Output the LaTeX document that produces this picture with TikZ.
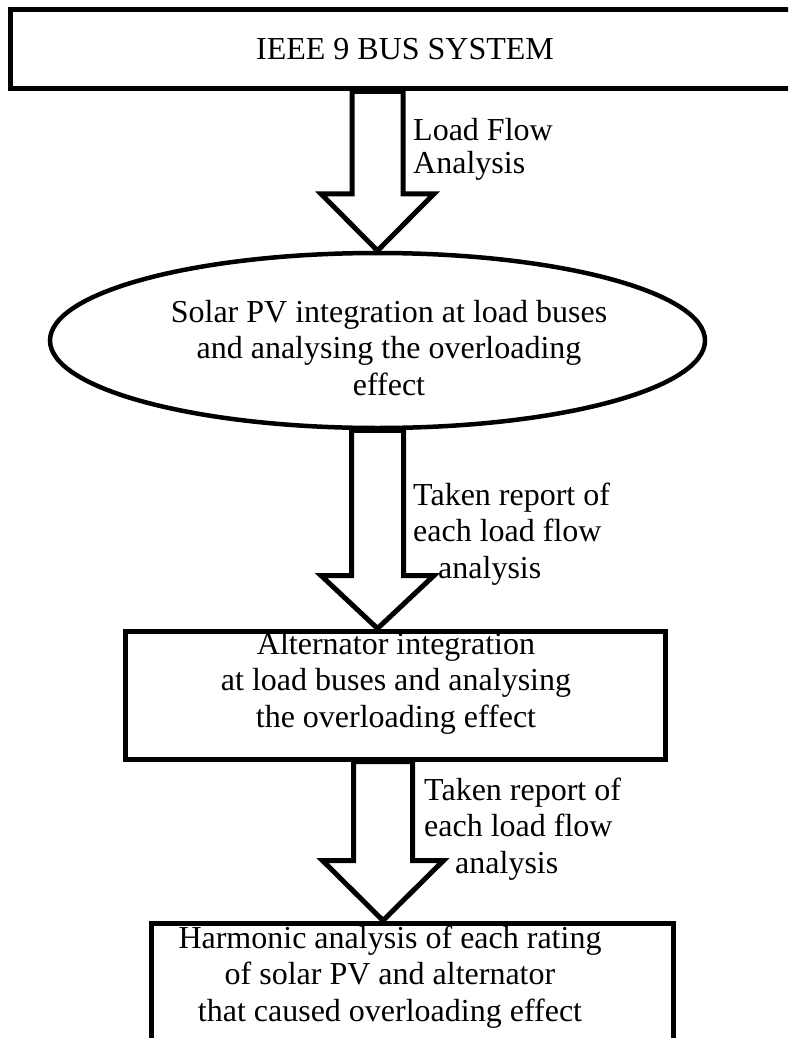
\documentclass[tikz,border=0pt]{standalone}
\usepackage{fontspec}
\setmainfont{Liberation Serif}
\usetikzlibrary{shapes.geometric, positioning, calc}
\tikzset{
  % Box styles
  flowbox/.style={rectangle, draw=black, line width=5pt, fill=white, inner sep=0pt, font=\fontsize{32}{36.5}\selectfont},
  ovalbox/.style={ellipse, draw=black, line width=4.5pt, fill=white, inner sep=0pt},
  % Text styles
  boxtext/.style={font=\fontsize{32}{36.5}\selectfont, align=center, anchor=base, inner sep=0pt},
  sidetext/.style={font=\fontsize{32}{36.5}\selectfont, align=left, anchor=base west, inner sep=0pt},
  % Arrow style
  hollow/.style={draw=black, fill=white, line width=5pt, line join=miter}
}
% hollow block arrow: source, tip, shaft half width, head half width, head length
\newcommand{\hollowarrow}[5]{%
  \draw[hollow] let \p1=(#1), \p2=(#2) in
    (\x2-#3pt,\y1) -- (\x2-#3pt,\y2+#5pt) -- (\x2-#4pt,\y2+#5pt) -- (\p2)
    -- (\x2+#4pt,\y2+#5pt) -- (\x2+#3pt,\y2+#5pt) -- (\x2+#3pt,\y1) -- cycle;}

\begin{document}
\begin{tikzpicture}[x=1pt, y=-1pt]
  \useasboundingbox (0,0) rectangle (788,1038);
  \clip (0,0) rectangle (788,1038);

  % Boxes
  \node[flowbox, minimum width=790, minimum height=79] (sys) at (405,49.5) {IEEE 9 BUS SYSTEM};
  \node[ovalbox, minimum width=655, minimum height=175] (ell) at (377.5,340.5) {};
  \node[flowbox, minimum width=540, minimum height=128] (alt) at (395,695) {};
  \node[flowbox, minimum width=522, minimum height=147] (harm) at (412,996.5) {};

  % Box texts (anchored on the last line)
  \node[boxtext] (soltext) at (389,395) {Solar PV integration at load buses\\and analysing the overloading\\effect};
  \node[boxtext] (alttext) at (396,727) {Alternator integration\\at load buses and analysing\\the overloading effect};
  \node[boxtext] (harmtext) at (390,1021) {Harmonic analysis of each rating\\of solar PV and alternator\\that caused overloading effect};

  % Arrows
  \hollowarrow{sys.south}{ell.north}{25.5}{56.5}{57}
  \hollowarrow{ell.south}{ell.south |- alt.north}{26}{56.5}{53}
  \hollowarrow{alt.south}{$(harm.north)+(-29,0)$}{29.5}{60.5}{60}

  % Arrow labels
  \node[sidetext, font=\fontsize{32}{33}\selectfont] (lflow) at (413,173) {Load Flow\\Analysis};
  \node[sidetext] (rep1) at (413,578) {Taken report of\\each load flow\\\hspace*{25pt}analysis};
  \node[sidetext] (rep2) at (424,873) {Taken report of\\each load flow\\\hspace*{31pt}analysis};
\end{tikzpicture}
\end{document}
